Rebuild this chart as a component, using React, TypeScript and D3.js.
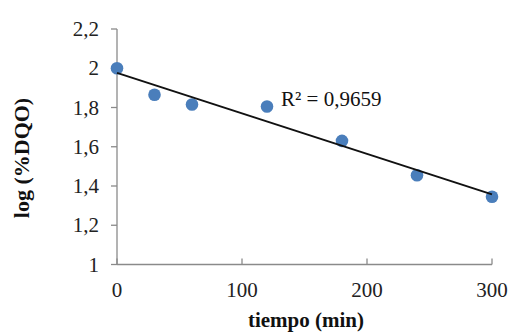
import React from 'react';
import * as d3 from 'd3';

const tiempo = [0, 30, 60, 120, 180, 240, 300];
const logDQO = [2.0, 1.865, 1.815, 1.805, 1.63, 1.455, 1.345];
const yTicks = [1, 1.2, 1.4, 1.6, 1.8, 2, 2.2];
const xTicks = [0, 100, 200, 300];
const r2Label = 'R² = 0,9659';

const width = 511;
const height = 333;
const margin = { top: 29, right: 19, bottom: 68.5, left: 117 };

const fmt = (v: number) => String(v).replace('.', ',');

export default function App() {
  const x = d3.scaleLinear().domain([0, 300]).range([margin.left, width - margin.right]);
  const y = d3.scaleLinear().domain([1, 2.2]).range([height - margin.bottom, margin.top]);

  // least squares trendline
  const mx = d3.mean(tiempo)!;
  const my = d3.mean(logDQO)!;
  const sxy = d3.sum(tiempo, (t, i) => (t - mx) * (logDQO[i] - my));
  const sxx = d3.sum(tiempo, t => (t - mx) ** 2);
  const slope = sxy / sxx;
  const b = my - slope * mx;
  const line = d3.line<number>().x(t => x(t)).y(t => y(b + slope * t));

  const axisColor = '#8a8a8a';
  const font = "'Liberation Serif', 'Times New Roman', serif";

  return (
    <div style={{ position: 'absolute', left: 0, top: 0 }}>
      <svg width={width} height={height} style={{ display: 'block', background: '#fff', fontFamily: font }}>
        {/* y axis */}
        <line x1={x(0)} x2={x(0)} y1={y(1)} y2={y(2.2)} stroke={axisColor} strokeWidth={1.3} />
        {yTicks.map(t => (
          <g key={t}>
            <line x1={x(0) - 6} x2={x(0)} y1={y(t)} y2={y(t)} stroke={axisColor} strokeWidth={1.3} />
            <text x={x(0) - 18} y={y(t)} dy="0.34em" textAnchor="end" fontSize={21} fill="#222">
              {fmt(t)}
            </text>
          </g>
        ))}
        {/* x axis */}
        <line x1={x(0)} x2={x(300)} y1={y(1)} y2={y(1)} stroke={axisColor} strokeWidth={1.3} />
        {xTicks.map(t => (
          <g key={t}>
            <line x1={x(t)} x2={x(t)} y1={y(1)} y2={y(1) - 6} stroke={axisColor} strokeWidth={1.3} />
            <text x={x(t)} y={y(1) + 32.5} textAnchor="middle" fontSize={21} fill="#222">
              {t}
            </text>
          </g>
        ))}
        {/* points */}
        {tiempo.map((t, i) => (
          <circle key={t} cx={x(t)} cy={y(logDQO[i])} r={6.3} fill="#4a7ebb" />
        ))}
        {/* trendline */}
        <path d={line([0, 300])!} fill="none" stroke="#111" strokeWidth={2} />
        <text x={281} y={106} fontSize={21} fill="#111">{r2Label}</text>
        {/* titles */}
        <text x={306} y={327} textAnchor="middle" fontSize={21} fontWeight="bold" fill="#111">
          tiempo (min)
        </text>
        <text
          transform={`translate(29,158) rotate(-90)`}
          textAnchor="middle"
          fontSize={22}
          fontWeight="bold"
          fill="#111"
        >
          log (%DQO)
        </text>
      </svg>
    </div>
  );
}
